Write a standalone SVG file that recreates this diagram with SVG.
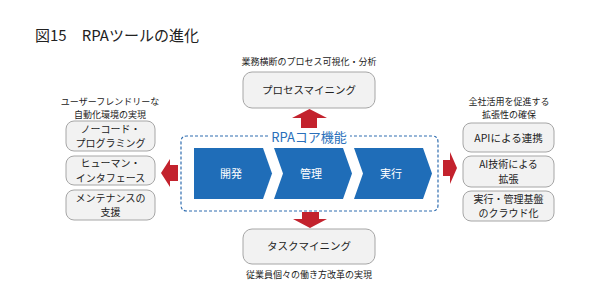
<svg xmlns="http://www.w3.org/2000/svg" width="590" height="301" viewBox="0 0 590 301">
<style>
text{font-family:"Noto Sans CJK JP","Noto Sans",sans-serif;}
.box{fill:#f2f2f2;stroke:#a6a6a6;stroke-width:1;}
.bt{font-size:10px;fill:#222;text-anchor:middle;}
.bt1{font-size:10.5px;fill:#222;text-anchor:middle;}
.lbl{font-size:9px;fill:#222;text-anchor:middle;}
.chev{fill:#1f6db8;}
.ct{font-size:11px;fill:#fff;text-anchor:middle;}
.arr{fill:#c3222d;}
</style>
<rect width="590" height="301" fill="#fff"/>
<text x="35" y="41" style="font-size:15px;fill:#222;">図15　RPAツールの進化</text>

<g id="core">
<path d="M268,136 H187 Q181,136 181,142 V205 Q181,211 187,211 H432 Q438,211 438,205 V142 Q438,136 432,136 H350" fill="none" stroke="#2f6db0" stroke-width="1.2" stroke-dasharray="3,2"/>
<text x="309" y="142" style="font-size:13px;fill:#2a6fba;text-anchor:middle;">RPAコア機能</text>
</g>
<g id="dev">
<path class="chev" d="M194,148 H263 L272,173.5 L263,199 H194 Z"/>
<text class="ct" x="231" y="177.5">開発</text>
</g>
<g id="mgmt">
<path class="chev" d="M274,148 H343 L352,173.5 L343,199 H274 L283,173.5 Z"/>
<text class="ct" x="311" y="177.5">管理</text>
</g>
<g id="exec">
<path class="chev" d="M354,148 H423 L432,173.5 L423,199 H354 L363,173.5 Z"/>
<text class="ct" x="391" y="177.5">実行</text>
</g>

<g id="process-mining">
<text class="lbl" x="309" y="65">業務横断のプロセス可視化・分析</text>
<rect class="box" x="243" y="72" width="132" height="36" rx="9"/>
<text class="bt1" x="309" y="93.5">プロセスマイニング</text>
</g>
<g id="task-mining">
<rect class="box" x="243" y="229" width="132" height="35" rx="9"/>
<text class="bt1" x="309" y="250">タスクマイニング</text>
<text class="lbl" x="309" y="278">従業員個々の働き方改革の実現</text>
</g>

<g id="left-group">
<text class="lbl" x="110" y="105">ユーザーフレンドリーな<tspan x="110" dy="13">自動化環境の実現</tspan></text>
</g>
<g id="nocode">
<rect class="box" x="66" y="121" width="89" height="30" rx="8"/>
<text class="bt" x="110.5" y="132.5">ノーコード・<tspan x="110.5" dy="14.5">プログラミング</tspan></text>
</g>
<g id="human-if">
<rect class="box" x="66" y="156" width="89" height="29" rx="8"/>
<text class="bt" x="110.5" y="167">ヒューマン・<tspan x="110.5" dy="14.5">インタフェース</tspan></text>
</g>
<g id="maint">
<rect class="box" x="66" y="190" width="89" height="30" rx="8"/>
<text class="bt" x="110.5" y="201.5">メンテナンスの<tspan x="110.5" dy="14.5">支援</tspan></text>
</g>

<g id="right-group">
<text class="lbl" x="509" y="105">全社活用を促進する<tspan x="509" dy="13">拡張性の確保</tspan></text>
</g>
<g id="api">
<rect class="box" x="463" y="123" width="91" height="29" rx="8"/>
<text class="bt1" x="508.5" y="141.5">APIによる連携</text>
</g>
<g id="ai">
<rect class="box" x="463" y="156" width="91" height="31" rx="8"/>
<text class="bt" x="508.5" y="168">AI技術による<tspan x="508.5" dy="14.5">拡張</tspan></text>
</g>
<g id="cloud">
<rect class="box" x="463" y="191" width="91" height="30" rx="8"/>
<text class="bt" x="508.5" y="202.5">実行・管理基盤<tspan x="508.5" dy="14.5">のクラウド化</tspan></text>
</g>

<g id="connectors">
<path class="arr" d="M301,128 V118 H292 L309.5,109 L327,118 H317 V128 Z"/>
<path class="arr" d="M302,212 V219 H293 L310,228 L327,219 H319 V212 Z"/>
<path class="arr" d="M178,165 H170 V159 L161,173 L170,187 V181 H178 Z"/>
<path class="arr" d="M443,160 H450 V152 L457,168 L450,184 V176 H443 Z"/>
</g>
</svg>
